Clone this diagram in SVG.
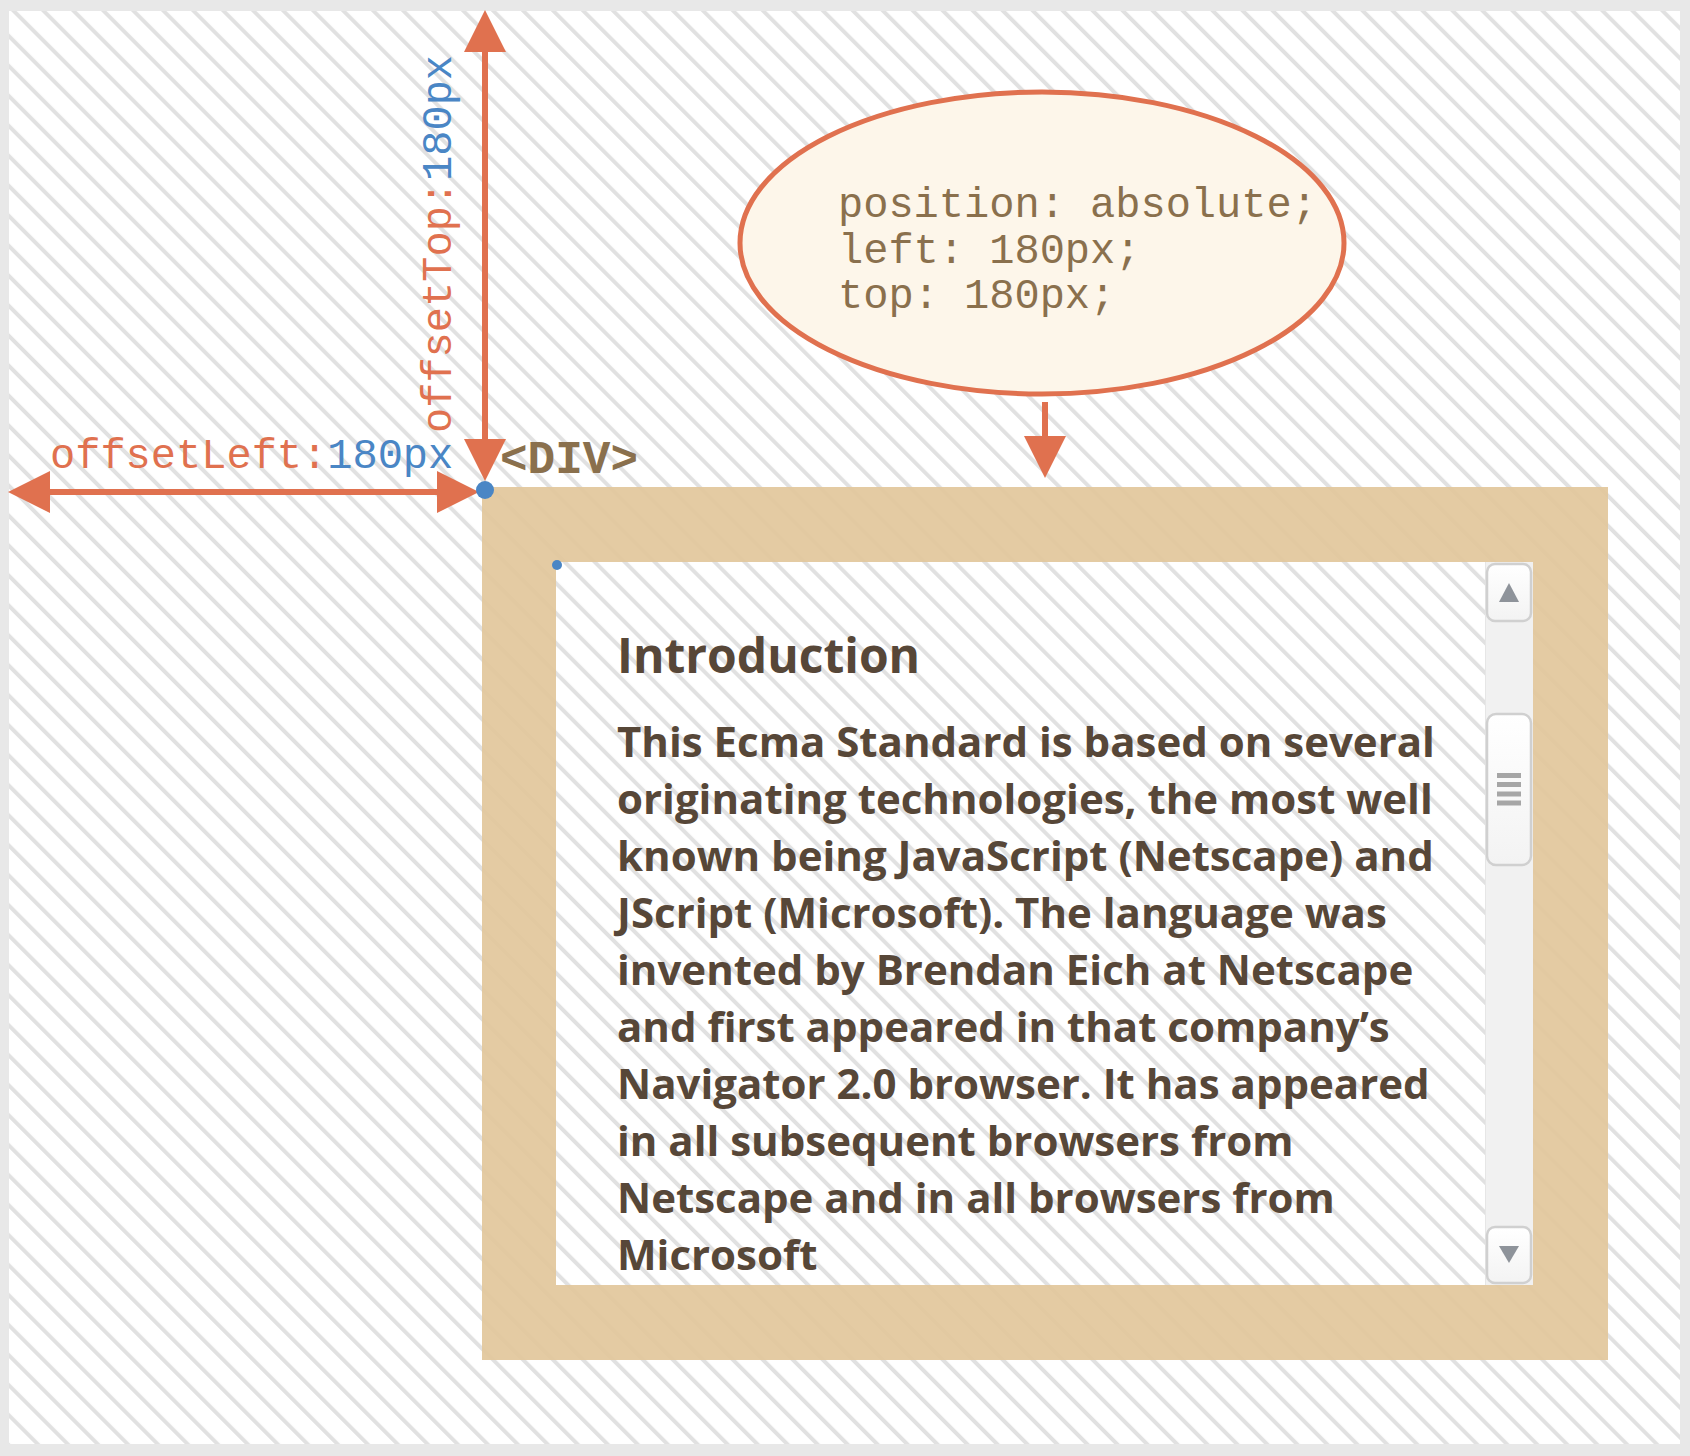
<svg xmlns="http://www.w3.org/2000/svg" width="1690" height="1456" viewBox="0 0 1690 1456">
  <defs>
    <pattern id="hatch" patternUnits="userSpaceOnUse" width="21.2" height="21.2" patternTransform="rotate(-45)">
      <rect x="0" y="0" width="4" height="21.2" fill="#e1e1e1"/>
    </pattern>
    <marker id="head" viewBox="0 -21 42 42" refX="0" refY="0" markerWidth="42" markerHeight="42" markerUnits="userSpaceOnUse" orient="auto-start-reverse">
      <path d="M0,-21 L42,0 L0,21 z" fill="#e0714f"/>
    </marker>
    <linearGradient id="btn" x1="0" y1="0" x2="0" y2="1">
      <stop offset="0" stop-color="#ffffff"/>
      <stop offset="1" stop-color="#f3f3f3"/>
    </linearGradient>
    <style>
      .mono { font-family: "Liberation Mono", "DejaVu Sans Mono", monospace; font-size: 42px; }
      .or { fill: #e0714f; }
      .bl { fill: #4a86c5; }
      .code { fill: #8a704d; }
      .txt { font-family: "Open Sans", "Noto Sans", sans-serif; font-weight: 700; fill: #574738; font-size: 42px; }
      .conn { stroke: #e0714f; stroke-width: 6; fill: none; }
      .sbtn { fill: url(#btn); stroke: #d0d0d0; stroke-width: 2.5; }
      .tri { fill: #8e939a; }
      .grip { fill: #a6a6a6; }
    </style>
  </defs>

  <!-- frame and background -->
  <rect x="0" y="0" width="1690" height="1456" fill="#e8e8e8"/>
  <rect x="9" y="11" width="1671" height="1433" fill="#ffffff"/>
  <rect x="9" y="11" width="1671" height="1433" fill="url(#hatch)"/>

  <!-- DIV box -->
  <g id="div-box">
    <path d="M482,487 H1608 V1360 H482 Z M556,562 V1285 H1533 V562 Z" fill="#e2c79c" fill-opacity="0.93" fill-rule="evenodd"/>
    <text class="txt" x="617" y="673" style="font-size:48px">Introduction</text>
    <text class="txt" x="617" y="757">This Ecma Standard is based on several</text>
    <text class="txt" x="617" y="814">originating technologies, the most well</text>
    <text class="txt" x="617" y="871">known being JavaScript (Netscape) and</text>
    <text class="txt" x="617" y="928">JScript (Microsoft). The language was</text>
    <text class="txt" x="617" y="985">invented by Brendan Eich at Netscape</text>
    <text class="txt" x="617" y="1042">and first appeared in that company’s</text>
    <text class="txt" x="617" y="1099">Navigator 2.0 browser. It has appeared</text>
    <text class="txt" x="617" y="1156">in all subsequent browsers from</text>
    <text class="txt" x="617" y="1213">Netscape and in all browsers from</text>
    <text class="txt" x="617" y="1270">Microsoft</text>
  </g>

  <!-- scrollbar -->
  <g id="scrollbar">
    <rect x="1485" y="562" width="48" height="723" fill="#f1f1f1"/>
    <line x1="1485.5" y1="562" x2="1485.5" y2="1285" stroke="#e6e6e6" stroke-width="1"/>
    <rect class="sbtn" x="1487" y="564" width="44" height="57" rx="8"/>
    <polygon class="tri" points="1509,583 1499,602 1519,602"/>
    <rect class="sbtn" x="1487" y="714" width="44" height="151" rx="9"/>
    <rect class="grip" x="1497" y="773" width="24" height="5"/>
    <rect class="grip" x="1497" y="782" width="24" height="5"/>
    <rect class="grip" x="1497" y="791.5" width="24" height="5"/>
    <rect class="grip" x="1497" y="800.5" width="24" height="5"/>
    <rect class="sbtn" x="1487" y="1227" width="44" height="56" rx="8"/>
    <polygon class="tri" points="1499,1246 1519,1246 1509,1263"/>
  </g>

  <!-- CSS ellipse -->
  <g id="css-note">
    <ellipse cx="1042" cy="243" rx="302" ry="151" fill="#fdf6ea" stroke="#e0714f" stroke-width="5"/>
    <text class="mono code" x="838" y="217">position: absolute;</text>
    <text class="mono code" x="838" y="263">left: 180px;</text>
    <text class="mono code" x="838" y="308">top: 180px;</text>
  </g>

  <!-- connectors -->
  <g id="connectors">
    <line class="conn" x1="485" y1="52" x2="485" y2="439" marker-start="url(#head)" marker-end="url(#head)"/>
    <line class="conn" x1="50" y1="492" x2="437" y2="492" marker-start="url(#head)" marker-end="url(#head)"/>
    <line class="conn" x1="1045" y1="402" x2="1045" y2="436" marker-end="url(#head)"/>
  </g>

  <!-- labels -->
  <g id="offset-left-label">
    <text class="mono" x="50" y="468"><tspan class="or">offsetLeft:</tspan><tspan class="bl">180px</tspan></text>
  </g>
  <g id="offset-top-label">
    <text class="mono" transform="translate(451,433) rotate(-90)"><tspan class="or">offsetTop:</tspan><tspan class="bl">180px</tspan></text>
  </g>
  <g id="div-label">
    <text class="mono code" x="500" y="473" style="font-weight:700;font-size:46px">&lt;DIV&gt;</text>
  </g>

  <!-- corner points -->
  <g id="points">
    <circle cx="485" cy="490" r="9" fill="#4a86c5"/>
    <circle cx="557" cy="565" r="5" fill="#4a86c5"/>
  </g>
</svg>
